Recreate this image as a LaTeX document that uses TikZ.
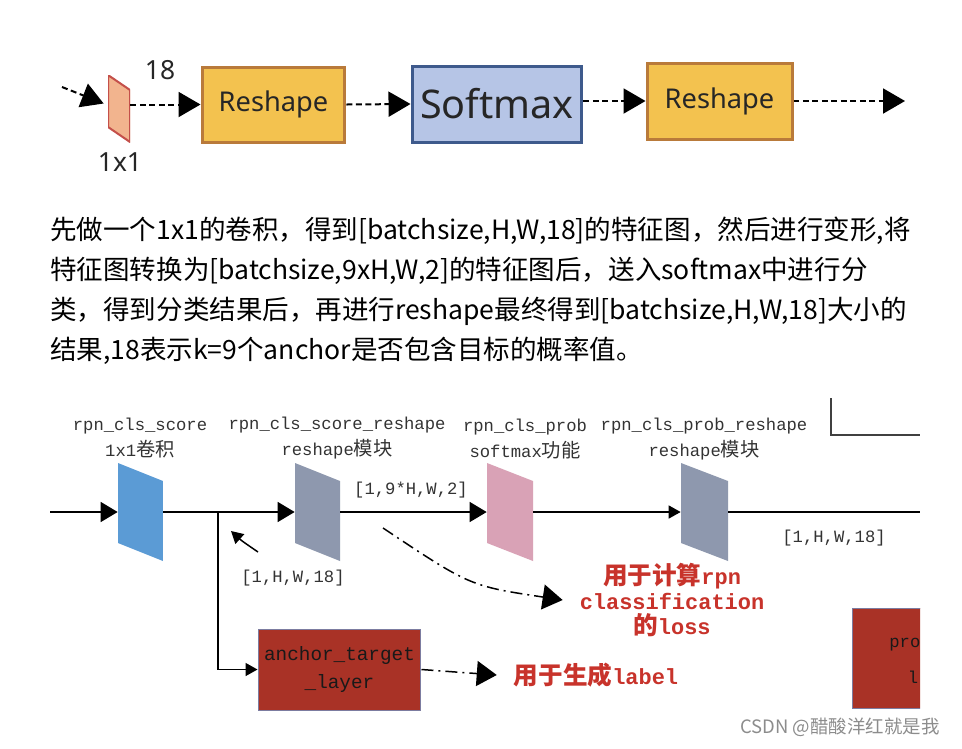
\documentclass[tikz,border=0pt]{standalone}
\usepackage{fontspec}
\usepackage{tikz}
\usetikzlibrary{arrows.meta}
\setmainfont{Noto Sans}
\setmonofont{Liberation Mono}
\newfontfamily\cjk{Noto Sans CJK SC}
\newfontfamily\zh{Noto Sans CJK SC}[Scale=1.12]

\definecolor{convfill}{HTML}{F2B48E}
\definecolor{convedge}{HTML}{C4504A}
\definecolor{reshapefill}{HTML}{F3C24F}
\definecolor{reshapeedge}{HTML}{B97A3A}
\definecolor{softfill}{HTML}{B6C5E6}
\definecolor{softedge}{HTML}{3E5A8C}
\definecolor{mapblue}{HTML}{5B9BD5}
\definecolor{mapgray}{HTML}{8E98AE}
\definecolor{mappink}{HTML}{D9A2B6}
\definecolor{layerred}{HTML}{A93226}
\definecolor{layeredge}{HTML}{7C7CA0}
\definecolor{notered}{HTML}{C8332B}

\begin{document}
\begin{tikzpicture}[x=0.02cm, y=-0.02cm,
    fmap/.style 2 args={rectangle, inner sep=0pt, path picture={
        \path[#1] (path picture bounding box.north west)
            -- ([yshift=-#2]path picture bounding box.north east)
            -- (path picture bounding box.south east)
            -- ([yshift=#2]path picture bounding box.south west) -- cycle;}},
    topbox/.style={rectangle, line width=0.06cm, inner sep=0pt, text=black!85},
    topflow/.style={line width=0.04cm, dash pattern=on 0.12cm off 0.07cm,
        -{Triangle[length=0.44cm,width=0.5cm]}},
    flow/.style={line width=0.03cm, -{Triangle[length=0.34cm,width=0.4cm]}},
    thinflow/.style={line width=0.03cm, -{Triangle[length=0.24cm,width=0.26cm]}},
    hintflow/.style={line width=0.03cm, dash pattern=on 0.24cm off 0.1cm on 0.04cm off 0.1cm,
        -{Triangle[length=0.4cm,width=0.5cm]}},
    tag/.style={font=\fontsize{9.8}{14.6}\selectfont\ttfamily, text=black!80, align=center, inner sep=1pt},
    note/.style={font=\fontsize{12.5}{14.5}\selectfont\ttfamily\bfseries, text=notered, align=center, inner sep=1pt},
    layer/.style={rectangle, fill=layerred, draw=layeredge, line width=0.02cm, align=center,
        font=\fontsize{11}{16}\selectfont\ttfamily, text=black!90},
    para/.style={anchor=west, inner sep=0pt, font=\cjk\fontsize{15.1}{18}\selectfont}
]
\useasboundingbox[fill=white] (0,0) rectangle (962,748);

% top strip
\node at (119,108.5) [fmap={fill=convfill, draw=convedge, line width=0.04cm}{0.3cm},
    minimum width=0.44cm, minimum height=1.34cm] (fm) {};
\node at (160,70) [font=\fontsize{15}{18}\selectfont, text=black!85] (ch) {18};
\node at (120,162) [font=\fontsize{15}{18}\selectfont, text=black!85] (ks) {1x1};
\node at (273.5,104.5) [topbox, fill=reshapefill, draw=reshapeedge, minimum width=2.86cm,
    minimum height=1.5cm, font=\fontsize{15.5}{18}\selectfont] (rs1) {Reshape};
\node at (497,104) [topbox, fill=softfill, draw=softedge, minimum width=3.4cm,
    minimum height=1.52cm, font=\fontsize{22.5}{26}\selectfont] (sm) {Softmax};
\node at (719.5,101) [topbox, fill=reshapefill, draw=reshapeedge, minimum width=2.9cm,
    minimum height=1.52cm, font=\fontsize{15.5}{18}\selectfont] (rs2) {Reshape};
\coordinate (feed) at (62,87);
\coordinate (topout) at (905,101);

\draw[topflow] (feed) -- ([shift={(-4,-5)}]fm.west);
\draw[topflow] (fm.east |- rs1.west) -- (rs1.west);
\draw[topflow] (rs1.east) -- (sm.west);
\draw[topflow] (sm.east |- rs2.west) -- (rs2.west);
\draw[topflow] (rs2.east) -- (topout);

% text
\node at (50,231) [para] (ln1) {先做一个1x1的卷积，得到[batchsize,H,W,18]的特征图，然后进行变形,将};
\node at (50,271) [para] (ln2) {特征图转换为[batchsize,9xH,W,2]的特征图后，送入softmax中进行分};
\node at (50,311) [para] (ln3) {类，得到分类结果后，再进行reshape最终得到[batchsize,H,W,18]大小的};
\node at (50,351) [para] (ln4) {结果,18表示k=9个anchor是否包含目标的概率值。};

% rpn cls branch
\node at (140.5,512) [fmap={fill=mapblue}{0.36cm}, minimum width=0.9cm, minimum height=1.96cm] (score) {};
\node at (317.5,512) [fmap={fill=mapgray}{0.36cm}, minimum width=0.9cm, minimum height=1.96cm] (scoreR) {};
\node at (510,512) [fmap={fill=mappink}{0.36cm}, minimum width=0.92cm, minimum height=1.96cm] (prob) {};
\node at (704.5,512) [fmap={fill=mapgray}{0.36cm}, minimum width=0.94cm, minimum height=1.96cm] (probR) {};

\node at (140,438) [tag] (tscore) {rpn\_cls\_score\\1x1{\zh 卷积}};
\node at (337,438) [tag] (tscoreR) {rpn\_cls\_score\_reshape\\reshape{\zh 模块}};
\node at (525,439) [tag] (tprob) {rpn\_cls\_prob\\softmax{\zh 功能}};
\node at (704,439) [tag] (tprobR) {rpn\_cls\_prob\_reshape\\reshape{\zh 模块}};
\node at (411,490) [tag] (s9) {[1,9*H,W,2]};
\node at (293,578) [tag] (s18a) {[1,H,W,18]};
\node at (834,538) [tag] (s18b) {[1,H,W,18]};

\node at (339.5,669.5) [layer, minimum width=3.26cm, minimum height=1.62cm] (atl) {anchor\_target\\\_layer};
\begin{scope}
  \clip (0,0) rectangle (920,748);
  \node at (933.5,658) [layer, minimum width=3.26cm, minimum height=2cm] (prl) {};
\end{scope}
\node at (889,645) [anchor=west, inner sep=0pt, font=\fontsize{9.8}{12}\selectfont\ttfamily, text=black!90] (prtop) {pro};
\node at (913,677) [inner sep=0pt, font=\fontsize{9.8}{12}\selectfont\ttfamily, text=black!90] (prbot) {l};

\node at (672,600) [note] (lossnote) {{\zh 用于计算}rpn\\classification\\{\zh 的}loss};
\node at (596,675) [note] (labelnote) {{\zh 用于生成}label};

\coordinate (src) at (50,512);
\coordinate (split) at (218,512);
\coordinate (sink) at (920,512);
\coordinate (lossfrom) at (383,528);
\coordinate (hint) at (258,552);
\coordinate (hintend) at (231,531);

\draw[flow] (src) -- (score.west);
\draw[line width=0.03cm] (score.east) -- (split);
\draw[flow] (split) -- (scoreR.west);
\draw[flow] (scoreR.east) -- (prob.west);
\draw[thinflow] (prob.east) -- (probR.west);
\draw[line width=0.03cm] (probR.east) -- (sink);
\draw[thinflow] (split) |- (atl.west);
\draw[thinflow] (hint) .. controls (242,541) .. (hintend);
\draw[hintflow] (lossfrom) .. controls (470,586) .. ([xshift=-0.3cm]lossnote.west);
\draw[hintflow] (atl.east) -- ([xshift=-0.3cm]labelnote.west);

\draw[line width=0.03cm, black!75] (831,398) -- (831,435) -- (920,435);

\node at (840,727) [font=\cjk\fontsize{10.5}{12}\selectfont, text=black!45] (mark) {CSDN @醋酸洋红就是我};
\end{tikzpicture}
\end{document}
